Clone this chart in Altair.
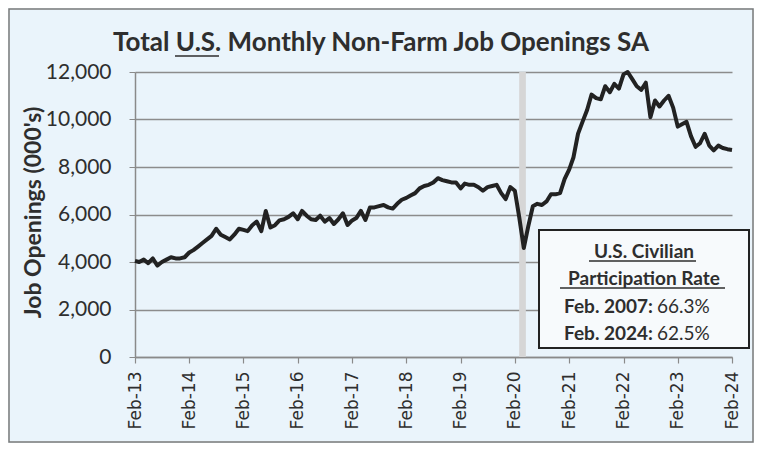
import altair as alt
import pandas as pd

# ---- data (000's of job openings, monthly, Feb 2013 - Feb 2024) ----
start_month = "2013-02-01"
end_month = "2024-02-01"
openings_2013 = [4050, 4000, 4100, 3950, 4150, 3850, 4000, 4100, 4200, 4150, 4150, 4200]   # Feb13-Jan14
openings_2014 = [4400, 4500, 4650, 4800, 4950, 5100, 5400, 5150, 5050, 4950, 5150, 5400]   # Feb14-Jan15
openings_2015 = [5350, 5300, 5550, 5700, 5300, 6150, 5450, 5550, 5750, 5800, 5900, 6050]   # Feb15-Jan16
openings_2016 = [5800, 6150, 5950, 5800, 5770, 5950, 5700, 5850, 5600, 5800, 6050, 5560]   # Feb16-Jan17
openings_2017 = [5750, 5850, 6150, 5770, 6300, 6300, 6350, 6400, 6300, 6250, 6450, 6620]   # Feb17-Jan18
openings_2018 = [6700, 6800, 6900, 7100, 7200, 7250, 7350, 7530, 7450, 7400, 7350, 7350]   # Feb18-Jan19
openings_2019 = [7100, 7300, 7250, 7250, 7150, 7000, 7150, 7200, 7250, 6900, 6650, 7150]   # Feb19-Jan20
openings_2020 = [7000, 5900, 4590, 5500, 6350, 6450, 6400, 6550, 6850, 6850, 6900, 7500]   # Feb20-Jan21
openings_2021 = [7900, 8400, 9400, 9900, 10400, 11050, 10900, 10850, 11400, 11150, 11500, 11300]  # Feb21-Jan22
openings_2022 = [11900, 12000, 11700, 11400, 11250, 11550, 10100, 10800, 10550, 10800, 11000, 10500]  # Feb22-Jan23
openings_2023 = [9700, 9800, 9900, 9300, 8850, 9000, 9400, 8900, 8700, 8900, 8800, 8750]   # Feb23-Jan24
openings_2024 = [8720]  # Feb24

values = (openings_2013 + openings_2014 + openings_2015 + openings_2016 + openings_2017
          + openings_2018 + openings_2019 + openings_2020 + openings_2021 + openings_2022
          + openings_2023 + openings_2024)
months = pd.date_range(start_month, end_month, freq="MS")
df = pd.DataFrame({"date": months.strftime("%Y-%m-%d"), "openings": values})

tick_years = list(range(2013, 2025))
y_ticks = [0, 2000, 4000, 6000, 8000, 10000, 12000]

recession = pd.DataFrame({"start": ["2020-03-01"], "end": ["2020-04-15"],
                          "top": [12000], "bottom": [0]})

title_text = "Total U.S. Monthly Non-Farm Job Openings SA"
y_title = "Job Openings (000's)"
box_head = ["U.S. Civilian", "Participation Rate"]
rate_labels = ["Feb. 2007:", "Feb. 2024:"]
rate_values = ["66.3%", "62.5%"]

W, H = 597, 285
TXT = "#2e2e2e"
FONT = "Lato"

one = alt.Data(values=[{}])

x_enc = alt.X(
    "date:T",
    scale=alt.Scale(domain=[alt.DateTime(year=2013, month=2, date=1),
                            alt.DateTime(year=2024, month=2, date=1)]),
    axis=alt.Axis(
        values=[alt.DateTime(year=y, month=2, date=1) for y in tick_years],
        format="%b-%y", labelAngle=-90, labelFont="DejaVu Sans", labelFontSize=17,
        labelColor=TXT, labelPadding=8, tickSize=6, tickColor="#8a8a8a",
        domainColor="#8a8a8a", domainWidth=1.5, tickWidth=1.2, grid=False, title=None,
    ),
)
y_enc = alt.Y(
    "openings:Q",
    scale=alt.Scale(domain=[0, 12000], nice=False),
    axis=alt.Axis(
        values=y_ticks, format=",d", labelFont=FONT, labelFontSize=21, labelColor=TXT,
        labelPadding=18, tickSize=6, tickColor="#8a8a8a", domainColor="#8a8a8a",
        domainWidth=1.5, grid=True, gridColor="#8c8c8c", gridWidth=1.5,
        title=y_title, titleFont=FONT, titleFontSize=23, titleFontWeight="bold",
        titleColor=TXT, titleAngle=-90, titleX=-102, titleY=140,
        titleAlign="center", titleBaseline="middle",
    ),
)

band = alt.Chart(recession).mark_rect(color="#d6d6d6").encode(
    x="start:T", x2="end:T", y="top:Q", y2="bottom:Q"
)

line = alt.Chart(df).mark_line(color="#222222", strokeWidth=4, strokeJoin="round").encode(
    x=x_enc, y=y_enc
)

# annotation box
box = alt.Chart(one).mark_rect(fill="#f7fafc", stroke="#222222", strokeWidth=2).encode(
    x=alt.value(404), x2=alt.value(614), y=alt.value(158), y2=alt.value(276)
)

def txt(s, x, y, weight="bold", align="center", size=19):
    return alt.Chart(one).mark_text(
        text=s, font=FONT, fontSize=size, fontWeight=weight, color=TXT,
        align=align, baseline="middle"
    ).encode(x=alt.value(x), y=alt.value(y))

def uline(x1, x2, y):
    return alt.Chart(one).mark_rule(color=TXT, strokeWidth=1.5).encode(
        x=alt.value(x1), x2=alt.value(x2), y=alt.value(y)
    )

box_layers = [
    box,
    txt(box_head[0], 509, 180),
    uline(454, 561, 189),
    txt(box_head[1], 509, 207),
    uline(425, 590, 216),
    txt(rate_labels[0], 518, 235, align="right"),
    txt(rate_values[0], 522, 235, weight="normal", align="left"),
    txt(rate_labels[1], 518, 262, align="right"),
    txt(rate_values[1], 522, 262, weight="normal", align="left"),
]

title_mark = alt.Chart(one).mark_text(
    text=title_text, font=FONT, fontSize=26, fontWeight="bold", color=TXT,
    align="center", baseline="alphabetic"
).encode(x=alt.value(246), y=alt.value(-21))
title_ul = uline(40, 84, -16)

frame = alt.Chart(one).mark_rect(filled=False, stroke="#7a7a7a", strokeWidth=1.5).encode(
    x=alt.value(-126), x2=alt.value(618), y=alt.value(-63), y2=alt.value(370)
)

chart = alt.layer(
    band, line, *box_layers, title_mark, title_ul, frame
).properties(
    width=W, height=H,
    autosize=alt.AutoSizeParams(type="none"),
    padding={"left": 127, "right": 22, "top": 64, "bottom": 86},
    background="#eaf4fb",
).configure_view(stroke=None)

chart.save("out.html", embed_options={"renderer": "svg", "actions": False})
